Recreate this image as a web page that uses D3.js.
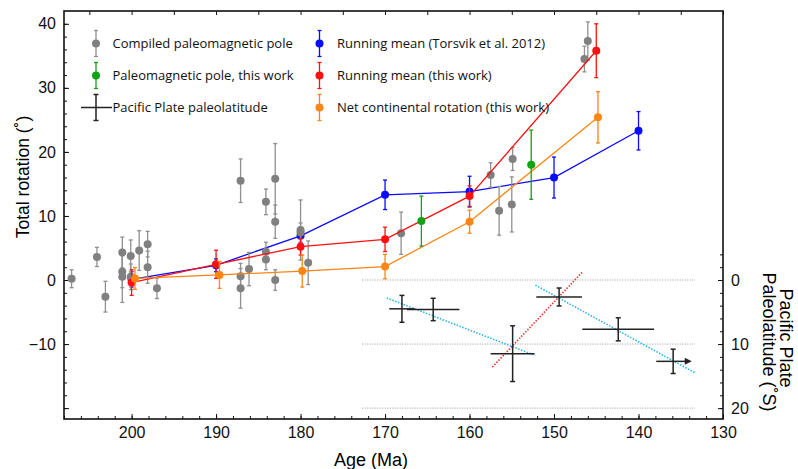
<!DOCTYPE html>
<html>
<head>
<meta charset="utf-8">
<script src="https://cdn.jsdelivr.net/npm/d3@7"></script>
<style>
  body { margin: 0; background: #fff; }
  svg { display: block; }
  .axis text { font-family: "Liberation Sans", Arial, sans-serif; font-size: 16px; fill: #111; }
  .legend text { font-family: "Open Sans", sans-serif; font-size: 13px; fill: #111; }
</style>
</head>
<body>
<svg id="chart" width="798" height="469"></svg>
<script>
// Data: [age (Ma), total rotation (deg), error]
const compiledPoles = [
  [207.1, 0.2, 1.4], [204.1, 3.6, 1.5], [203.1, -2.6, 2.4], [201.1, 4.3, 2.4],
  [201.1, 1.3, 2.5], [201.1, 0.5, 4.0], [200.1, 3.75, 2.5], [200.1, 0.5, 2.0],
  [199.1, 4.6, 3.1], [198.1, 5.6, 2.0], [198.1, 2.0, 2.5], [197.0, -1.3, 1.6],
  [187.1, 15.5, 3.4], [187.1, 0.6, 2.0], [187.1, -1.3, 3.1], [186.1, 1.7, 2.6],
  [184.1, 12.2, 2.0], [184.1, 4.4, 1.5], [184.1, 3.2, 1.6], [183.0, 15.8, 5.5],
  [183.0, 9.1, 2.6], [183.0, 0.0, 1.6], [180.0, 7.8, 4.7], [180.0, 7.4, 1.5],
  [179.1, 2.7, 3.4], [168.1, 7.3, 3.3], [157.5, 16.4, 1.9], [156.5, 10.8, 3.8],
  [155.0, 11.8, 4.3], [154.9, 18.9, 1.8], [146.4, 34.5, 2.0], [146.0, 37.3, 3.0]
];
const thisWorkPoles = [[165.7, 9.2, 3.9], [152.7, 18.0, 5.4]];
const torsvikMean = [
  [200, 0.1, 1.2], [190, 2.3, 1.0], [180, 6.9, 1.1], [170, 13.3, 2.3],
  [160, 13.8, 2.4], [150, 16.0, 3.2], [140, 23.3, 3.0]
];
const thisWorkMean = [
  [200, -0.4, 2.0], [190, 2.45, 2.2], [180, 5.2, 1.3], [170, 6.35, 1.9],
  [160, 13.1, 1.6], [145, 35.8, 4.2]
];
const netRotation = [
  [199.6, 0.25, 1.7], [189.6, 0.8, 2.1], [179.8, 1.4, 2.5], [170, 2.1, 1.9],
  [160, 9.1, 1.8], [144.8, 25.4, 4.0]
];
// Pacific plate: [age, paleolatitude (deg S), age error, latitude error]
const pacificLat = [
  [168.0, 4.5, 1.5, 2.1], [164.3, 4.6, 3.1, 1.75], [154.9, 11.5, 2.6, 4.35],
  [149.4, 2.65, 2.7, 1.4], [142.4, 7.7, 4.25, 1.8], [135.9, 12.7, 2.0, 1.9]
];
const arrowEndAge = 133.7;
// Trend lines: [[age, lat], [age, lat]]
const cyanTrends = [[[169.8, 2.8], [152.2, 11.8]], [[152.2, 0.8], [133.3, 14.5]]];
const redTrend = [[157.3, 13.6], [146.6, -1.3]];
const latGrid = [0, 10, 20];
const latGridAges = [172.7, 133.3];

const ageMajor = [200, 190, 180, 170, 160, 150, 140, 130];
const rotMajor = [-10, 0, 10, 20, 30, 40];
const latMajor = [0, 10, 20];

const legendLeft = ['Compiled paleomagnetic pole', 'Paleomagnetic pole, this work', 'Pacific Plate paleolatitude'];
const legendRight = ['Running mean (Torsvik et al. 2012)', 'Running mean (this work)', 'Net continental rotation (this work)'];

const L = 64, R = 723, T = 11, B = 419;
const svg = d3.select('#chart');
const x = d3.scaleLinear().domain([208, 130]).range([L, R]);
const y = d3.scaleLinear().domain([-21.7, 42]).range([B, T]);
const yLat = d3.scaleLinear().domain([21.7, -42]).range([B, T]);

// Axes
function addAxis(axis, transform, labels) {
  const g = svg.append('g').attr('class', 'axis').attr('transform', transform).call(axis);
  g.select('.domain').remove();
  g.selectAll('line').attr('stroke', '#111').attr('stroke-width', 1);
  if (!labels) g.selectAll('text').remove();
  return g;
}
const range = (a, b, s) => d3.range(a, b + s / 2, s);
addAxis(d3.axisBottom(x).tickValues(range(130, 208, 2)).tickSize(-3), `translate(0,${B})`, false);
addAxis(d3.axisBottom(x).tickValues(ageMajor).tickSize(-5).tickPadding(8), `translate(0,${B})`, true);
addAxis(d3.axisTop(x).tickValues(range(130, 205, 5)).tickSize(-4), `translate(0,${T})`, false);
addAxis(d3.axisLeft(y).tickValues(range(-20, 40, 2)).tickSize(-3), `translate(${L},0)`, false);
addAxis(d3.axisLeft(y).tickValues(rotMajor.concat([-20])).tickSize(-5).tickPadding(8), `translate(${L},0)`, true)
  .selectAll('text').filter(d => d === -20).remove();
addAxis(d3.axisRight(yLat).tickValues(range(-4, 20, 2)).tickSize(-3), `translate(${R},0)`, false);
addAxis(d3.axisRight(yLat).tickValues(latMajor).tickSize(-5).tickPadding(8), `translate(${R},0)`, true);

svg.append('rect').attr('x', L).attr('y', T).attr('width', R - L).attr('height', B - T)
  .attr('fill', 'none').attr('stroke', '#111').attr('stroke-width', 1.6);

// Axis titles
const titleFont = '"Liberation Sans", Arial, sans-serif';
svg.append('text').attr('transform', 'translate(29,177) rotate(-90)').attr('text-anchor', 'middle')
  .attr('font-family', titleFont).attr('font-size', 17.5).text('Total rotation (˚)');
svg.append('text').attr('x', 371).attr('y', 466).attr('text-anchor', 'middle')
  .attr('font-family', titleFont).attr('font-size', 18).text('Age (Ma)');
svg.append('text').attr('transform', 'translate(780,338) rotate(90)').attr('text-anchor', 'middle')
  .attr('font-family', titleFont).attr('font-size', 18).text('Pacific Plate');
svg.append('text').attr('transform', 'translate(763,342) rotate(90)').attr('text-anchor', 'middle')
  .attr('font-family', titleFont).attr('font-size', 18).text('Paleolatitude (˚S)');

// Latitude grid
svg.append('g').selectAll('line').data(latGrid).enter().append('line')
  .attr('x1', x(latGridAges[0])).attr('x2', x(latGridAges[1]))
  .attr('y1', d => yLat(d)).attr('y2', d => yLat(d))
  .attr('stroke', '#999').attr('stroke-width', 1).attr('stroke-dasharray', '1,1.5');

// Trend lines
svg.append('g').selectAll('line').data(cyanTrends).enter().append('line')
  .attr('x1', d => x(d[0][0])).attr('y1', d => yLat(d[0][1]))
  .attr('x2', d => x(d[1][0])).attr('y2', d => yLat(d[1][1]))
  .attr('stroke', '#2bb6ee').attr('stroke-width', 1.6).attr('stroke-dasharray', '1.5,1.5');
svg.append('line')
  .attr('x1', x(redTrend[0][0])).attr('y1', yLat(redTrend[0][1]))
  .attr('x2', x(redTrend[1][0])).attr('y2', yLat(redTrend[1][1]))
  .attr('stroke', '#ee3333').attr('stroke-width', 1.6).attr('stroke-dasharray', '1.5,1.5');

// Pacific crosses
const crossColor = '#222';
const crosses = svg.append('g').attr('stroke', crossColor).attr('stroke-width', 1.5);
pacificLat.forEach((d, i) => {
  const last = i === pacificLat.length - 1;
  const cx = x(d[0]), cy = yLat(d[1]);
  crosses.append('line').attr('x1', x(d[0] + d[2])).attr('x2', last ? x(arrowEndAge) - 5 : x(d[0] - d[2]))
    .attr('y1', cy).attr('y2', cy);
  crosses.append('line').attr('x1', cx).attr('x2', cx).attr('y1', yLat(d[1] - d[3])).attr('y2', yLat(d[1] + d[3]));
  [d[1] - d[3], d[1] + d[3]].forEach(v => {
    crosses.append('line').attr('x1', cx - 2.5).attr('x2', cx + 2.5).attr('y1', yLat(v)).attr('y2', yLat(v));
  });
  if (last) {
    const ax = x(arrowEndAge);
    svg.append('path').attr('d', `M${ax},${cy} L${ax - 7},${cy - 3.5} L${ax - 7},${cy + 3.5} Z`).attr('fill', crossColor);
  }
});

// Error-bar points
function drawPoints(data, color, barColor) {
  const g = svg.append('g');
  data.forEach(d => {
    const px = x(d[0]);
    g.append('line').attr('x1', px).attr('x2', px).attr('y1', y(d[1] - d[2])).attr('y2', y(d[1] + d[2]))
      .attr('stroke', barColor).attr('stroke-width', 1.3);
    [d[1] - d[2], d[1] + d[2]].forEach(v => {
      g.append('line').attr('x1', px - 2).attr('x2', px + 2).attr('y1', y(v)).attr('y2', y(v))
        .attr('stroke', barColor).attr('stroke-width', 1.3);
    });
  });
  g.selectAll('circle').data(data).enter().append('circle')
    .attr('cx', d => x(d[0])).attr('cy', d => y(d[1])).attr('r', 4).attr('fill', color);
}
function drawSeries(data, color) {
  svg.append('path').datum(data).attr('fill', 'none').attr('stroke', color).attr('stroke-width', 1.3)
    .attr('d', d3.line().x(d => x(d[0])).y(d => y(d[1])));
  drawPoints(data, color, color);
}

drawSeries(torsvikMean, '#0a0aff');
drawPoints(compiledPoles, '#808080', '#909090');
drawSeries(thisWorkMean, '#ff1010');
drawSeries(netRotation, '#ff8512');
drawPoints(thisWorkPoles, '#11a311', '#11a311');

// Legend
const legend = svg.append('g').attr('class', 'legend');
const rowsY = [43.5, 75.5, 107.5];
const leftColors = ['#808080', '#11a311'];
const rightColors = ['#0a0aff', '#ff1010', '#ff8512'];
function legendMarker(cx, cy, color, barColor) {
  legend.append('line').attr('x1', cx).attr('x2', cx).attr('y1', cy - 13).attr('y2', cy + 13)
    .attr('stroke', barColor).attr('stroke-width', 1.3);
  [cy - 13, cy + 13].forEach(v => legend.append('line').attr('x1', cx - 2).attr('x2', cx + 2)
    .attr('y1', v).attr('y2', v).attr('stroke', barColor).attr('stroke-width', 1.3));
  legend.append('circle').attr('cx', cx).attr('cy', cy).attr('r', 4).attr('fill', color);
}
legendMarker(96, rowsY[0], leftColors[0], '#909090');
legendMarker(96, rowsY[1], leftColors[1], leftColors[1]);
const lc = legend.append('g').attr('stroke', crossColor).attr('stroke-width', 1.5);
lc.append('line').attr('x1', 81).attr('x2', 112).attr('y1', rowsY[2]).attr('y2', rowsY[2]);
lc.append('line').attr('x1', 96).attr('x2', 96).attr('y1', rowsY[2] - 13).attr('y2', rowsY[2] + 13);
[rowsY[2] - 13, rowsY[2] + 13].forEach(v => lc.append('line').attr('x1', 93.5).attr('x2', 98.5).attr('y1', v).attr('y2', v));
rightColors.forEach((c, i) => legendMarker(319.5, rowsY[i], c, c));

legend.selectAll('text.l').data(legendLeft).enter().append('text').attr('class', 'l')
  .attr('x', 112.5).attr('y', (d, i) => rowsY[i]).attr('dy', '0.35em').text(d => d);
legend.selectAll('text.r').data(legendRight).enter().append('text').attr('class', 'r')
  .attr('x', 337).attr('y', (d, i) => rowsY[i]).attr('dy', '0.35em').text(d => d);
</script>
</body>
</html>
